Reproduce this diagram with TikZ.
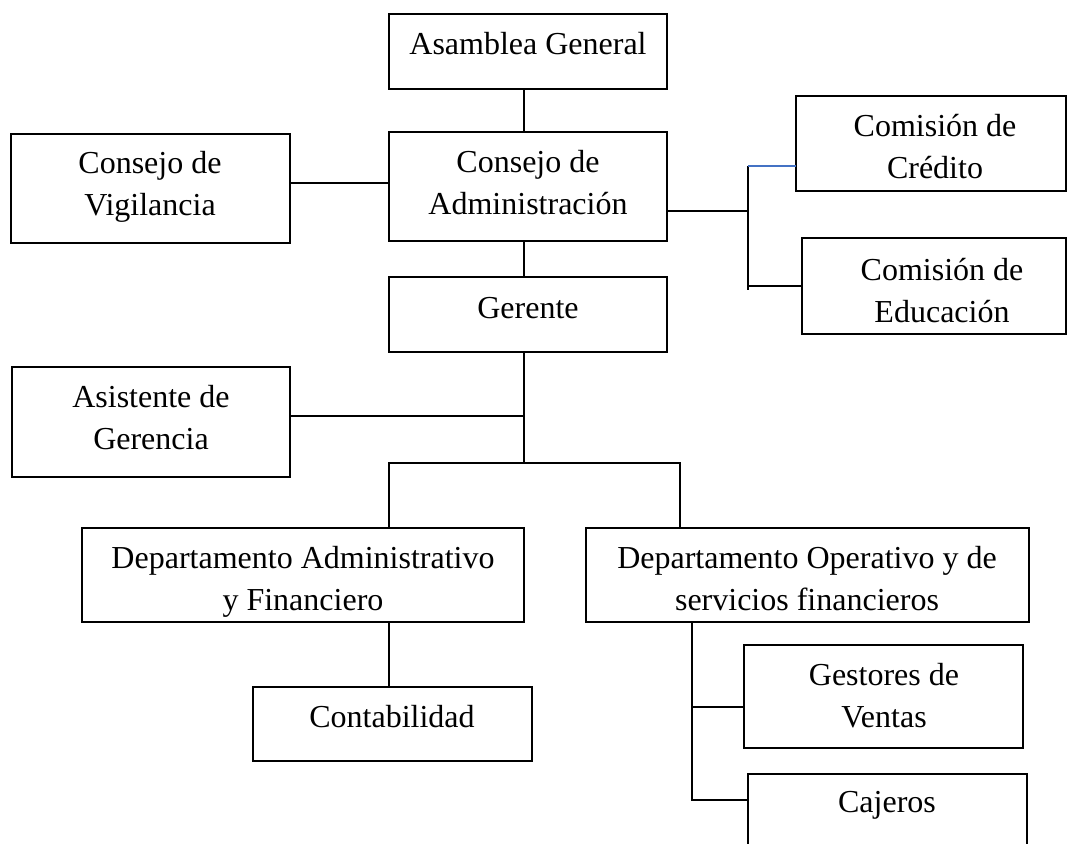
\documentclass[tikz,border=0pt]{standalone}
\usepackage{fontspec}
\setmainfont{Liberation Serif}
\definecolor{wordblue}{HTML}{4472C4}
\begin{document}
\begin{tikzpicture}[x=1pt,y=-1pt,
  box/.style={draw, line width=1.8pt, inner sep=0pt, outer sep=0pt, anchor=north west},
  lbl/.style={font=\fontsize{32}{42}\selectfont, align=center, inner sep=0pt, anchor=base},
  conn/.style={line width=1.8pt}]
\useasboundingbox[fill=white] (0,0) rectangle (1067,843);
% boxes
\node[box, minimum width=278pt, minimum height=75pt]  (ag) at (389,14) {};
\node[box, minimum width=279pt, minimum height=109pt] (cv) at (11,134) {};
\node[box, minimum width=278pt, minimum height=109pt] (ca) at (389,132) {};
\node[box, minimum width=270pt, minimum height=95pt]  (cc) at (796,96) {};
\node[box, minimum width=264pt, minimum height=96pt]  (ce) at (802,238) {};
\node[box, minimum width=278pt, minimum height=75pt]  (ge) at (389,277) {};
\node[box, minimum width=278pt, minimum height=110pt] (as) at (12,367) {};
\node[box, minimum width=442pt, minimum height=94pt]  (da) at (82,528) {};
\node[box, minimum width=443pt, minimum height=94pt]  (do) at (586,528) {};
\node[box, minimum width=279pt, minimum height=74pt]  (co) at (253,687) {};
\node[box, minimum width=279pt, minimum height=103pt] (gv) at (744,645) {};
\node[box, minimum width=279pt, minimum height=100pt] (cj) at (748,774) {};
% texts (anchor base = baseline of the last line)
\node[lbl] (tag) at (528,55) {Asamblea General};
\node[lbl] (tcv) at (150,215) {Consejo de\\Vigilancia};
\node[lbl] (tca) at (528,214) {Consejo de\\Administración};
\node[lbl] (tcc) at (935,178) {Comisión de\\Crédito};
\node[lbl] (tce) at (942,322) {Comisión de\\Educación};
\node[lbl] (tge) at (528,318) {Gerente};
\node[lbl] (tas) at (151,449) {Asistente de\\Gerencia};
\node[lbl] (tda) at (303,610) {Departamento Administrativo\\y Financiero};
\node[lbl] (tdo) at (807,610) {Departamento Operativo y de\\servicios financieros};
\node[lbl] (tco) at (392,727) {Contabilidad};
\node[lbl] (tgv) at (884,727) {Gestores de\\Ventas};
\node[lbl] (tcj) at (887,812) {Cajeros};
% helper coordinates
\coordinate (cx) at (524,0);
\coordinate (hcv) at (0,183);
\coordinate (hca) at (0,211);
\coordinate (sp1) at (748,166);
\coordinate (sp2) at (748,290);
\coordinate (hce) at (0,286);
\coordinate (has) at (0,416);
\coordinate (bl) at (389,463);
\coordinate (br) at (680,463);
\coordinate (dox) at (692,0);
\coordinate (hgv) at (0,707);
\coordinate (hcj) at (0,800);
% connectors
\draw[conn] (ag.south -| cx) -- (ca.north -| cx);
\draw[conn] (ca.south -| cx) -- (ge.north -| cx);
\draw[conn] (cv.east |- hcv) -- (ca.west |- hcv);
\draw[conn] (ca.east |- hca) -- (sp1 |- hca);
\draw[conn] (sp1) -- (sp2);
\draw[conn, wordblue] (sp1) -- (cc.west |- sp1);
\draw[conn] (sp1 |- hce) -- (ce.west |- hce);
\draw[conn] (ge.south -| cx) -- (cx |- bl);
\draw[conn] (as.east |- has) -- (cx |- has);
\draw[conn] (da.north -| bl) -- (bl) -- (br) -- (do.north -| br);
\draw[conn] (da.south -| bl) -- (co.north -| bl);
\draw[conn] (do.south -| dox) -- (dox |- hcj) -- (cj.west |- hcj);
\draw[conn] (dox |- hgv) -- (gv.west |- hgv);
\end{tikzpicture}
\end{document}
